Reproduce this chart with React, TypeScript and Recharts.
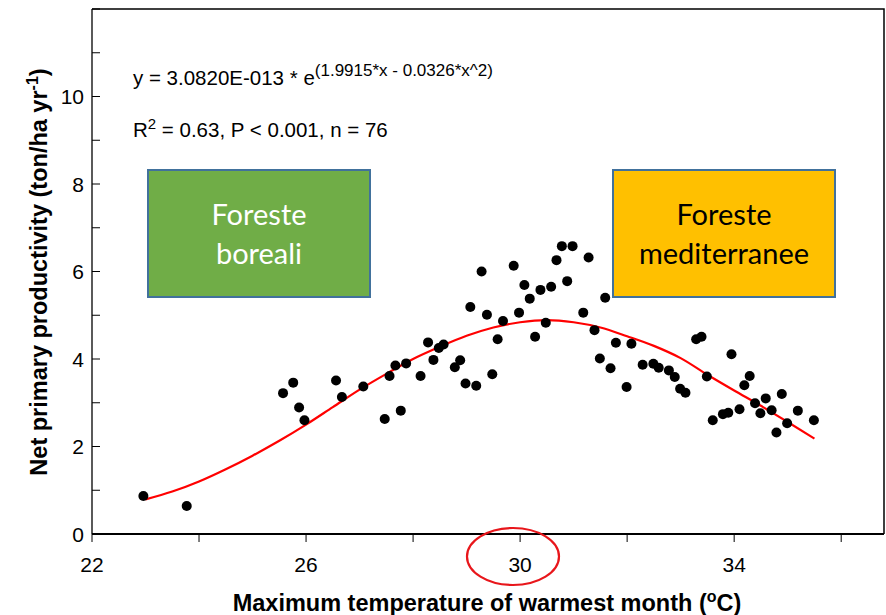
import { ComposedChart, Line, Scatter, XAxis, YAxis } from "recharts";

// observed sites: max temperature of warmest month (°C) vs NPP (ton/ha yr-1)
const tempC = [
  22.96, 23.77, 25.57, 25.76, 25.87, 25.97, 26.56, 26.67, 27.07, 27.47,
  27.56, 27.67, 27.87, 27.77, 28.14, 28.28, 28.38, 28.48, 28.57, 28.78,
  28.88, 28.98, 29.18, 29.07, 29.28, 29.38, 29.48, 29.58, 29.68, 29.88,
  29.98, 30.08, 30.18, 30.28, 30.38, 30.48, 30.58, 30.68, 30.78, 30.88,
  30.98, 31.18, 31.28, 31.39, 31.49, 31.59, 31.69, 31.79, 31.99, 32.08,
  32.29, 32.49, 32.59, 32.78, 32.89, 32.99, 33.09, 33.29, 33.39, 33.49,
  33.6, 33.79, 33.89, 33.95, 34.1, 34.19, 34.29, 34.39, 34.49, 34.59,
  34.7, 34.79, 34.89, 34.99, 35.19, 35.49,
];
const npp = [
  0.87, 0.64, 3.22, 3.46, 2.89, 2.6, 3.51, 3.13, 3.37, 2.63,
  3.61, 3.85, 3.9, 2.82, 3.61, 4.38, 3.98, 4.25, 4.33, 3.81,
  3.97, 3.44, 3.39, 5.19, 6.0, 5.01, 3.65, 4.45, 4.87, 6.13,
  5.06, 5.69, 5.38, 4.51, 5.58, 4.83, 5.65, 6.26, 6.58, 5.78,
  6.58, 5.06, 6.32, 4.66, 4.01, 5.4, 3.79, 4.37, 3.36, 4.35,
  3.87, 3.89, 3.8, 3.74, 3.59, 3.32, 3.23, 4.45, 4.51, 3.6,
  2.6, 2.74, 2.77, 4.11, 2.85, 3.4, 3.61, 2.99, 2.76, 3.1,
  2.83, 2.32, 3.2, 2.53, 2.82, 2.6,
];

// fitted curve
const fitX = [
  23, 23.5, 24, 24.5, 25, 25.5, 26, 26.5, 27, 27.5, 28, 28.5, 29,
  29.5, 30, 30.5, 31, 31.5, 32, 32.5, 33, 33.5, 34, 34.5, 35, 35.5,
];
const fitY = [
  0.79, 0.97, 1.2, 1.48, 1.79, 2.13, 2.5, 2.9, 3.3, 3.66, 4.0, 4.28, 4.53,
  4.72, 4.84, 4.89, 4.84, 4.72, 4.52, 4.3, 4.02, 3.64, 3.28, 2.93, 2.56, 2.18,
];

const xTicks = [22, 24, 26, 28, 30, 32, 34, 36];
const xLabels = [22, 26, 30, 34];
const yTicks = [0, 1, 2, 3, 4, 5, 6, 7, 8, 9, 10, 11, 12];
const yLabels = [0, 2, 4, 6, 8, 10];

const points = tempC.map((x, i) => ({ x, y: npp[i] }));
const fit = fitX.map((x, i) => ({ x, y: fitY[i] }));

const ARIAL = '"Liberation Sans", Arial, sans-serif';
const BOX = 'Lato, "Open Sans", sans-serif';

const W = 886;
const H = 615;
const LEFT = 92;
const TOP = 9;
const RIGHT = 884;
const BOTTOM = 534;

function XTick(props: any) {
  const { x, y, payload } = props;
  const v = payload.value;
  return (
    <g>
      <line x1={x} x2={x} y1={y} y2={y + 8} stroke="#000" strokeWidth={1} />
      {xLabels.includes(v) && (
        <text x={x} y={y + 38} textAnchor="middle" fontSize={21} fontFamily={ARIAL} fill="#000">
          {v}
        </text>
      )}
    </g>
  );
}

function YTick(props: any) {
  const { x, y, payload } = props;
  const v = payload.value;
  return (
    <g>
      <line x1={x} x2={x + 8} y1={y} y2={y} stroke="#000" strokeWidth={1} />
      {yLabels.includes(v) && (
        <text x={x - 8} y={y + 7.5} textAnchor="end" fontSize={21} fontFamily={ARIAL} fill="#000">
          {v}
        </text>
      )}
    </g>
  );
}

function Dot(props: any) {
  return <circle cx={props.cx} cy={props.cy} r={5} fill="#000" />;
}

export default function App() {
  return (
    <div style={{ position: "absolute", left: 0, top: 0, width: W, height: H, background: "#fff" }}>
      <ComposedChart width={W} height={H} margin={{ top: TOP, right: W - RIGHT, bottom: 0, left: 0 }}>
        <XAxis
          type="number"
          dataKey="x"
          domain={[22, 36.8]}
          ticks={xTicks}
          allowDataOverflow
          height={H - BOTTOM}
          tickSize={0}
          tickMargin={0}
          tickLine={false}
          axisLine={{ stroke: "#000", strokeWidth: 2 }}
          tick={<XTick />}
        />
        <YAxis
          type="number"
          dataKey="y"
          domain={[0, 12]}
          ticks={yTicks}
          width={LEFT}
          tickSize={0}
          tickMargin={0}
          tickLine={false}
          axisLine={{ stroke: "#000", strokeWidth: 1.3 }}
          tick={<YTick />}
        />
        <Line
          data={fit}
          dataKey="y"
          type="monotone"
          stroke="#ff0000"
          strokeWidth={2.2}
          dot={false}
          activeDot={false}
          isAnimationActive={false}
        />
        <Scatter data={points} dataKey="y" shape={<Dot />} isAnimationActive={false} />
      </ComposedChart>

      <svg
        width={W}
        height={H}
        style={{ position: "absolute", left: 0, top: 0, pointerEvents: "none" }}
      >
        {/* top and right frame */}
        <polyline
          points={`${LEFT},${TOP} ${RIGHT},${TOP} ${RIGHT},${BOTTOM}`}
          fill="none"
          stroke="#000"
          strokeWidth={1.5}
        />

        <text x={133} y={85} fontSize={20.5} fontFamily={ARIAL} fill="#000">
          y = 3.0820E-013 * e
          <tspan dy={-9} fontSize={17}>
            (1.9915*x - 0.0326*x^2)
          </tspan>
        </text>
        <text x={133} y={137} fontSize={20.5} fontFamily={ARIAL} fill="#000">
          R
          <tspan dy={-8} fontSize={15}>
            2
          </tspan>
          <tspan dy={8}> = 0.63, P &lt; 0.001, n = 76</tspan>
        </text>

        <rect x={148} y={170} width={222} height={127} fill="#70AD47" stroke="#41719C" strokeWidth={2} />
        <text x={259} y={225} textAnchor="middle" fontSize={29} fontFamily={BOX} fill="#fff">
          Foreste
        </text>
        <text x={259} y={264} textAnchor="middle" fontSize={29} fontFamily={BOX} fill="#fff">
          boreali
        </text>

        <rect x={613} y={170} width={222} height={127} fill="#FFC000" stroke="#41719C" strokeWidth={2} />
        <text x={724} y={225} textAnchor="middle" fontSize={29} fontFamily={BOX} fill="#000">
          Foreste
        </text>
        <text x={724} y={264} textAnchor="middle" fontSize={29} fontFamily={BOX} fill="#000">
          mediterranee
        </text>

        <ellipse cx={513} cy={556.5} rx={46} ry={28.5} fill="none" stroke="#e8161b" strokeWidth={2.2} />

        <text
          x={487}
          y={611}
          textAnchor="middle"
          fontSize={23.5}
          fontWeight="bold"
          fontFamily={ARIAL}
          fill="#000"
        >
          Maximum temperature of warmest month (
          <tspan dy={-9} fontSize={16}>
            o
          </tspan>
          <tspan dy={9}>C)</tspan>
        </text>

        <text
          transform="translate(47,272) rotate(-90)"
          textAnchor="middle"
          fontSize={23.5}
          fontWeight="bold"
          fontFamily={ARIAL}
          fill="#000"
        >
          Net primary productivity (ton/ha yr
          <tspan dy={-9} fontSize={16}>
            -1
          </tspan>
          <tspan dy={9}>)</tspan>
        </text>
      </svg>
    </div>
  );
}
